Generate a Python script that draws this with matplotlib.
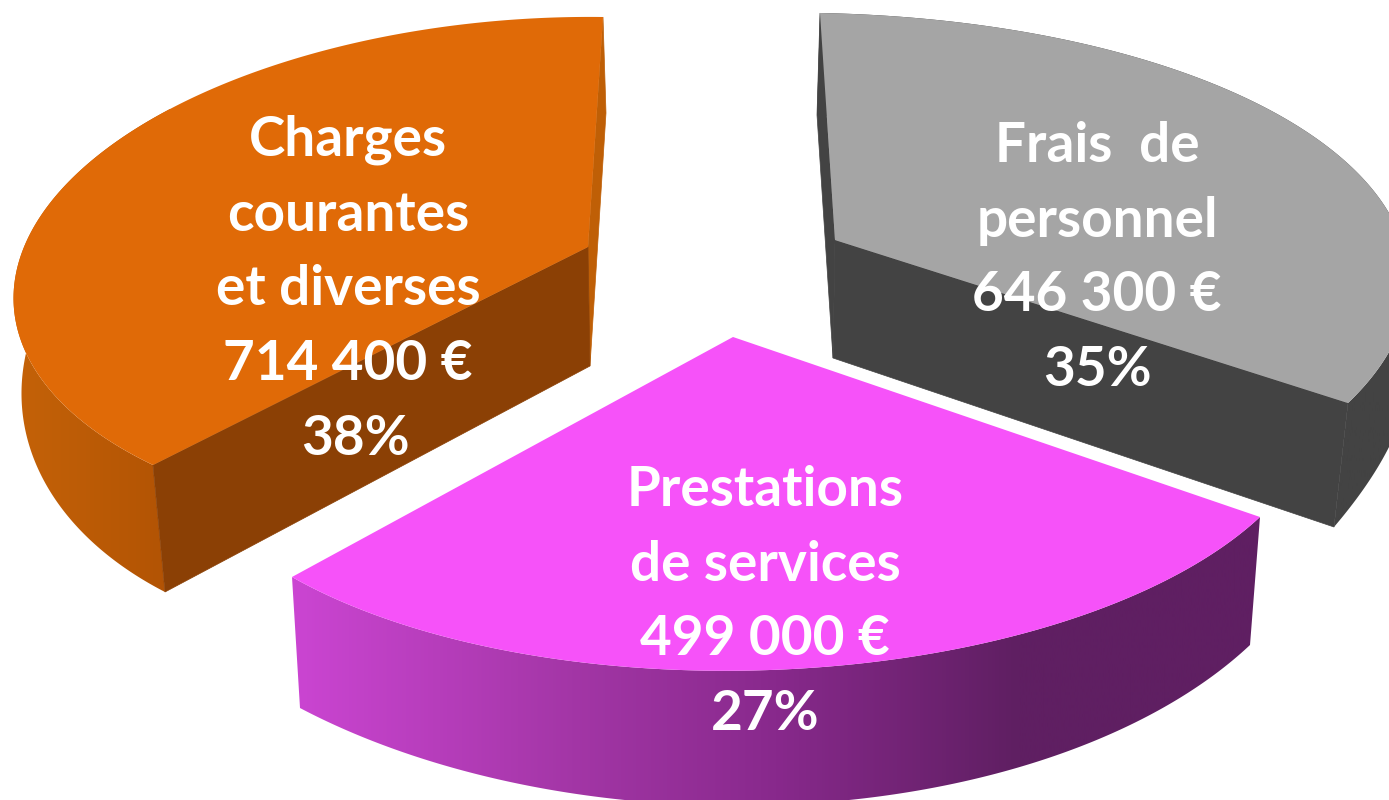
import numpy as np
import matplotlib
matplotlib.use("Agg")
import matplotlib.pyplot as plt
from matplotlib.colors import LinearSegmentedColormap
from matplotlib.patches import Polygon

# --- data ---
categories = [["Charges", "courantes", "et diverses"], ["Frais  de", "personnel"], ["Prestations", "de services"]]
values = [714400, 646300, 499000]

top_colors = ["#E06A07", "#A5A5A5", "#F652F9"]
cut_colors = ["#8B4005", "#434343", "#5F1F62"]
back_colors = ["#BF5F06", "#434343", "#5F1F62"]
side_stops = [
    [(0.0, "#C56308"), (1.0, "#B25304")],
    [(0.0, "#434343"), (1.0, "#434343")],
    [(0.0, "#CB45D2"), (0.29, "#A336A6"), (0.5, "#88298C"), (0.75, "#5F1F62"), (1.0, "#5F1F62")],
]
side_range = [(10, 170), (800, 1389), (292, 1260)]
show_cuts = [True, True, False]

# perspective outlines (pixel positions): wedge apex, arc start, arc end, three points on the rim
top_apex = [(588, 247), (835, 240), (733, 337)]
bot_apex = [(590, 366), (833, 358), (733, 460)]
top_rim = [
    [(603, 17), (153, 465), (330, 49), (50, 203), (50, 390)],
    [(820, 13), (1348, 403), (1250, 100), (1389, 213), (1389, 352)],
    [(1260, 517), (292, 577), (1180, 573), (770, 670), (370, 613)],
]
bot_rim = [
    [(606, 113), (165, 592), (200, 160), (22, 380), (110, 557)],
    [(817, 115), (1334, 527), (1260, 210), (1410, 370), (1389, 447)],
    [(1250, 645), (300, 708), (1207, 680), (570, 793), (370, 740)],
]
label_pos = [(348, 140), (1097, 146), (765, 490)]
pct_shift = [7, 0, 0]
LINE = 74.7


def homography(src, dst):
    rows = []
    for (x, y), (u, v) in zip(src, dst):
        rows.append([x, y, 1, 0, 0, 0, -u * x, -u * y, -u])
        rows.append([0, 0, 0, x, y, 1, -v * x, -v * y, -v])
    _, _, vt = np.linalg.svd(np.array(rows, float))
    return vt[-1].reshape(3, 3)


def apply(H, pts):
    p = np.c_[pts, np.ones(len(pts))] @ H.T
    return p[:, :2] / p[:, 2:]


def rim_arc(share, rim):
    """The pie's outer circle, arc length set by the share, seen in perspective."""
    pts = np.array(rim, float) / 1000.0
    A = np.c_[pts[:, 0] ** 2, pts[:, 0] * pts[:, 1], pts[:, 1] ** 2, pts, np.ones(5)]
    a, b, c, d, e, f = np.linalg.svd(A)[2][-1]
    C = np.array([[a, b / 2, d / 2], [b / 2, c, e / 2], [d / 2, e / 2, f]])
    P0, P2 = np.r_[pts[0], 1], np.r_[pts[1], 1]
    Qh = np.cross(C @ P0, C @ P2)
    Q = Qh[:2] / Qh[2]
    D = (pts[0] + pts[1]) / 2
    v = Q - D
    h = np.r_[D, 1]
    w = np.r_[v, 0]
    roots = np.roots([w @ C @ w, 2 * w @ C @ h, h @ C @ h])
    s = min(r.real for r in roots if r.real > 0)
    M = D + s * v
    phi = 2 * np.pi * share
    src = [(1, 0), (np.cos(phi), np.sin(phi)), (np.cos(phi / 2), np.sin(phi / 2)), (1, np.tan(phi / 2))]
    H = homography(src, [pts[0], pts[1], M, Q])
    t = np.linspace(0, phi, 400)
    return apply(H, np.c_[np.cos(t), np.sin(t)]) * 1000.0


shares = np.array(values) / sum(values)
fig = plt.figure(figsize=(13.89, 8), dpi=100, facecolor="white")
ax = fig.add_axes([0, 0, 1, 1])
ax.axis("off")

for i in [1, 0, 2]:
    c_t, c_b = np.array(top_apex[i], float), np.array(bot_apex[i], float)
    arc_t = rim_arc(shares[i], top_rim[i])
    arc_b = rim_arc(shares[i], bot_rim[i])
    # outer wall with a horizontal gradient
    wall = Polygon(np.r_[arc_t, arc_b[::-1]], closed=True, transform=ax.transData, fc="none", ec="none")
    ax.add_patch(wall)
    cmap = LinearSegmentedColormap.from_list("s", side_stops[i])
    x0, x1 = side_range[i]
    im = ax.imshow(np.linspace(0, 1, 512)[None, :], cmap=cmap, extent=(x0, x1, 800, 0), aspect="auto", zorder=1 + i * 3)
    im.set_clip_path(wall)
    # cut faces
    if show_cuts[i]:
        front = np.array([c_t, arc_t[-1], arc_b[-1], c_b])
        back = np.array([c_t, arc_t[0], arc_b[0], c_b])
        ax.add_patch(Polygon(back, closed=True, fc=back_colors[i], ec=back_colors[i], lw=0.5, zorder=1.5 + i * 3))
        ax.add_patch(Polygon(front, closed=True, fc=cut_colors[i], ec=cut_colors[i], lw=0.5, zorder=1.6 + i * 3))
    ax.add_patch(Polygon(np.r_[[c_t], arc_t], closed=True, fc=top_colors[i], ec="none", zorder=2 + i * 3))

    val = f"{values[i]:,}".replace(",", " ") + " €"
    lines = categories[i] + [val, f"{round(shares[i] * 100)}%"]
    lx, ly = label_pos[i]
    for k, s in enumerate(lines):
        dx = pct_shift[i] if k == len(lines) - 1 else 0
        ax.text(lx + dx, ly + k * LINE, s, color="white", family="Lato", weight="bold", fontsize=39.5,
                ha="center", va="center", zorder=20)

ax.set_xlim(0, 1389)
ax.set_ylim(800, 0)
fig.savefig("out.png", dpi=100, facecolor="white")
